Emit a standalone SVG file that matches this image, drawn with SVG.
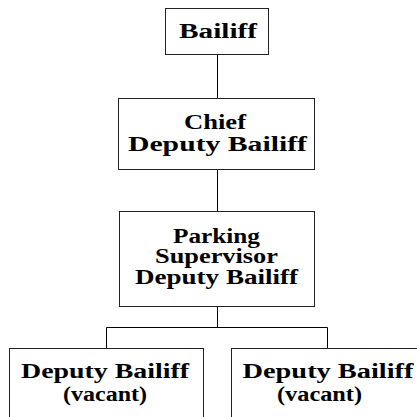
<svg xmlns="http://www.w3.org/2000/svg" width="417" height="417" viewBox="0 0 417 417">
  <style>
    .box { fill: #ffffff; stroke: #222222; stroke-width: 1; }
    .lbl { font-family: "Liberation Serif", "Times New Roman", serif; font-weight: bold; font-size: 20px; fill: #000000; text-anchor: middle; }
    .wire { stroke: #000000; stroke-width: 1; fill: none; }
  </style>
  <rect width="417" height="417" fill="#ffffff"/>

  <!-- reporting lines -->
  <g id="connectors">
    <path class="wire" d="M217.5 54 V98"/>
    <path class="wire" d="M217.5 169 V211"/>
    <path class="wire" d="M217.5 306 V327.5"/>
    <path class="wire" d="M106.5 348 V327.5 H327.5 V348"/>
  </g>

  <g id="bailiff">
    <rect class="box" x="165.5" y="8.5" width="103" height="46"/>
    <text class="lbl" x="218" y="38" textLength="78" lengthAdjust="spacingAndGlyphs">Bailiff</text>
  </g>

  <g id="chief-deputy">
    <rect class="box" x="118.5" y="98.5" width="196" height="71"/>
    <text class="lbl" x="215" y="129" textLength="62" lengthAdjust="spacingAndGlyphs">Chief</text>
    <text class="lbl" x="217.5" y="151" textLength="179" lengthAdjust="spacingAndGlyphs">Deputy Bailiff</text>
  </g>

  <g id="parking-supervisor">
    <rect class="box" x="119.5" y="211.5" width="195" height="95"/>
    <text class="lbl" x="216.5" y="243" textLength="87" lengthAdjust="spacingAndGlyphs">Parking</text>
    <text class="lbl" x="216.5" y="263" textLength="123" lengthAdjust="spacingAndGlyphs">Supervisor</text>
    <text class="lbl" x="216.5" y="284" textLength="163" lengthAdjust="spacingAndGlyphs">Deputy Bailiff</text>
  </g>

  <g id="deputy-left">
    <rect class="box" x="9.5" y="348.5" width="194" height="80"/>
    <text class="lbl" x="105" y="378" textLength="168" lengthAdjust="spacingAndGlyphs">Deputy Bailiff</text>
    <text class="lbl" x="105" y="401" textLength="84" lengthAdjust="spacingAndGlyphs">(vacant)</text>
  </g>

  <g id="deputy-right">
    <rect class="box" x="231.5" y="348.5" width="194" height="80"/>
    <text class="lbl" x="328" y="378" textLength="171" lengthAdjust="spacingAndGlyphs">Deputy Bailiff</text>
    <text class="lbl" x="319.5" y="401" textLength="85" lengthAdjust="spacingAndGlyphs">(vacant)</text>
  </g>
</svg>
